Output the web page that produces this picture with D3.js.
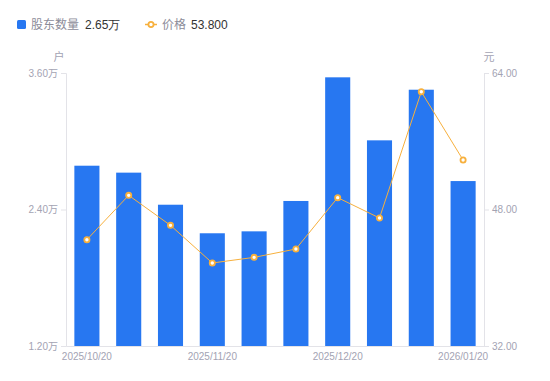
<!DOCTYPE html>
<html>
<head>
<meta charset="utf-8">
<script src="https://cdn.jsdelivr.net/npm/d3@7"></script>
<style>
  body { margin: 0; background: #fff; }
  svg { font-family: "Noto Sans CJK SC", "Liberation Sans", sans-serif; }
</style>
</head>
<body>
<div id="chart"></div>
<script>
var dates = ["2025/10/20", "2025/10/31", "2025/11/10", "2025/11/20", "2025/11/30",
             "2025/12/10", "2025/12/20", "2025/12/31", "2026/01/10", "2026/01/20"];
var holders = [2.785, 2.724, 2.442, 2.191, 2.208, 2.475, 3.562, 3.008, 3.453, 2.65];
var prices = [44.46, 49.66, 46.14, 41.73, 42.39, 43.37, 49.39, 47.0, 61.8, 53.8];
var leftTicks = [1.2, 2.4, 3.6];
var rightTicks = [32, 48, 64];
var shownDates = ["2025/10/20", "2025/11/20", "2025/12/20", "2026/01/20"];

var W = 550, H = 381;
var margin = { top: 73, right: 66, bottom: 35, left: 66 };
var width = W - margin.left - margin.right,
    height = H - margin.top - margin.bottom;

var blue = "#2777f1", orange = "#f7b03d", axisCol = "#e3e3e8", textCol = "#a3a3b3";

var svg = d3.select("#chart").append("svg")
    .attr("width", W).attr("height", H);
var g = svg.append("g")
    .attr("transform", "translate(" + margin.left + "," + margin.top + ")");

var x = d3.scaleBand().domain(dates).range([0, width]).paddingInner(0.4).paddingOuter(0.2);
var yL = d3.scaleLinear().domain([1.2, 3.6]).range([height, 0]);
var yR = d3.scaleLinear().domain([32, 64]).range([height, 0]);

// bars
g.selectAll("rect.bar").data(holders).enter().append("rect")
    .attr("class", "bar")
    .attr("x", function (d, i) { return x(dates[i]); })
    .attr("width", x.bandwidth())
    .attr("y", function (d) { return yL(d); })
    .attr("height", function (d) { return height - yL(d); })
    .attr("fill", blue);

// axes
var leftAxis = g.append("g")
    .call(d3.axisLeft(yL).tickValues(leftTicks).tickSize(5).tickPadding(3)
        .tickFormat(function (d) { return d.toFixed(2) + "万"; }));
var rightAxis = g.append("g")
    .attr("transform", "translate(" + width + ",0)")
    .call(d3.axisRight(yR).tickValues(rightTicks).tickSize(5).tickPadding(3)
        .tickFormat(function (d) { return d.toFixed(2); }));
var bottomAxis = g.append("g")
    .attr("transform", "translate(0," + height + ")")
    .call(d3.axisBottom(x).tickValues(shownDates).tickSize(0).tickPadding(7));

[leftAxis, rightAxis, bottomAxis].forEach(function (a) {
    a.select(".domain").attr("stroke", axisCol);
    a.selectAll(".tick line").attr("stroke", axisCol);
    a.selectAll("text").attr("fill", textCol).style("font-size", "10px")
        .style("font-family", "'Liberation Sans', 'Noto Sans CJK SC', sans-serif");
});
leftAxis.selectAll("text").style("font-family", "'Liberation Sans', 'Noto Sans CJK SC', sans-serif");

// unit labels
svg.append("text").attr("x", 59).attr("y", 61).attr("text-anchor", "middle")
    .attr("fill", textCol).style("font-size", "11px").text("户");
svg.append("text").attr("x", 489).attr("y", 61).attr("text-anchor", "middle")
    .attr("fill", textCol).style("font-size", "11px").text("元");

// price line
var line = d3.line()
    .x(function (d, i) { return x(dates[i]) + x.bandwidth() / 2; })
    .y(function (d) { return yR(d); });
g.append("path").datum(prices)
    .attr("d", line).attr("fill", "none")
    .attr("stroke", orange).attr("stroke-width", 1);
g.selectAll("circle.pt").data(prices).enter().append("circle")
    .attr("class", "pt")
    .attr("cx", function (d, i) { return x(dates[i]) + x.bandwidth() / 2; })
    .attr("cy", function (d) { return yR(d); })
    .attr("r", 2.6)
    .attr("fill", "#fff")
    .attr("stroke", orange).attr("stroke-width", 1.8);

// legend
var lg = svg.append("g").style("font-size", "12px");
lg.append("rect").attr("x", 17).attr("y", 20).attr("width", 9).attr("height", 9)
    .attr("rx", 1.5).attr("fill", blue);
lg.append("text").attr("x", 31).attr("y", 29).attr("fill", "#8c8c99").text("股东数量");
lg.append("text").attr("x", 85).attr("y", 29).attr("fill", "#333")
    .style("font-family", "'Liberation Sans', sans-serif")
    .text(holders[holders.length - 1].toFixed(2) + "万");
lg.append("line").attr("x1", 145).attr("x2", 157).attr("y1", 24.5).attr("y2", 24.5)
    .attr("stroke", orange).attr("stroke-width", 1.5);
lg.append("circle").attr("cx", 151).attr("cy", 24.5).attr("r", 2.6)
    .attr("fill", "#fff").attr("stroke", orange).attr("stroke-width", 1.8);
lg.append("text").attr("x", 162).attr("y", 29).attr("fill", "#8c8c99").text("价格");
lg.append("text").attr("x", 191).attr("y", 29).attr("fill", "#333")
    .style("font-family", "'Liberation Sans', sans-serif")
    .text(prices[prices.length - 1].toFixed(3));
</script>
</body>
</html>
